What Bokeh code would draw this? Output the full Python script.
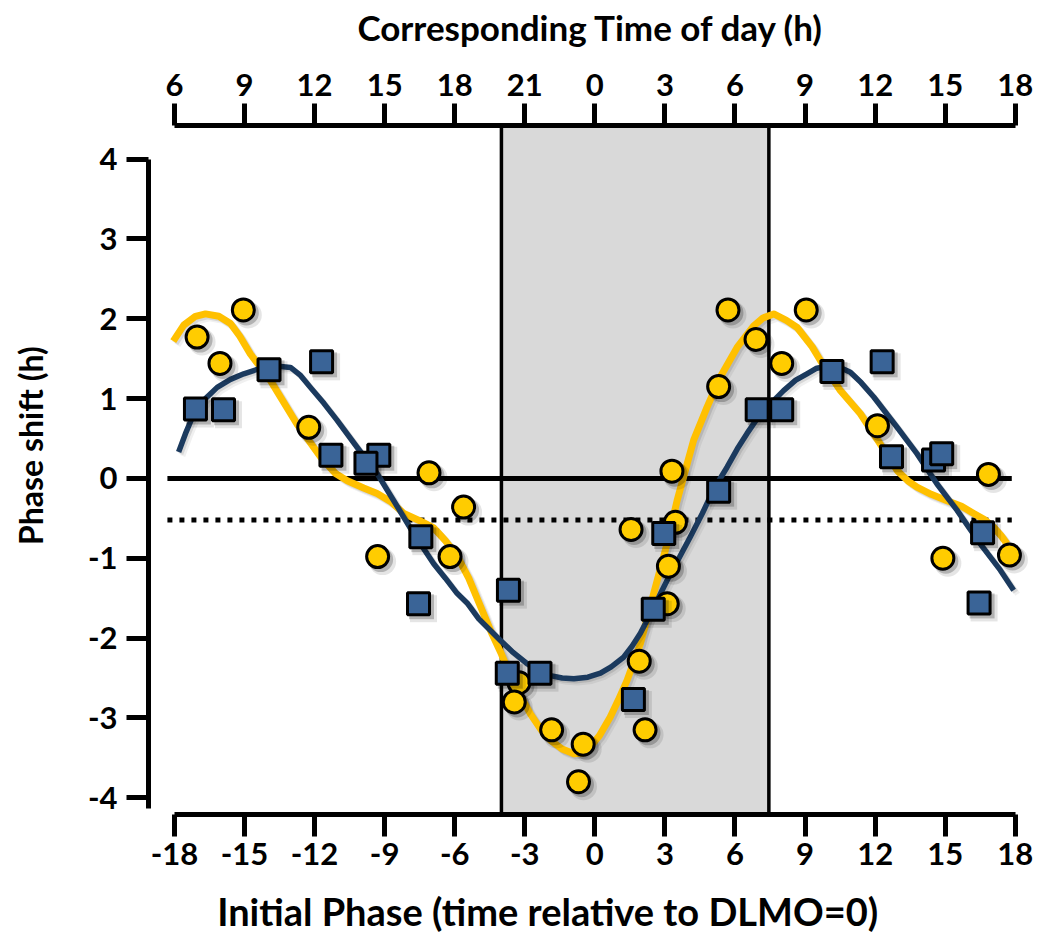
from bokeh.plotting import figure
from bokeh.models import LinearAxis, FixedTicker, Range1d, BoxAnnotation, Span
from bokeh.embed import file_html
from bokeh.resources import INLINE

# ---- axes ticks and labels ----
phase_ticks = [-18, -15, -12, -9, -6, -3, 0, 3, 6, 9, 12, 15, 18]
phase_tick_labels = ["-18", "-15", "-12", "-9", "-6", "-3", "0", "3", "6", "9", "12", "15", "18"]
clock_tick_labels = ["6", "9", "12", "15", "18", "21", "0", "3", "6", "9", "12", "15", "18"]
shift_ticks = [-4, -3, -2, -1, 0, 1, 2, 3, 4]
shift_tick_labels = ["-4", "-3", "-2", "-1", "0", "1", "2", "3", "4"]

top_title = "Corresponding Time of day (h)"
bottom_title = "Initial Phase (time relative to DLMO=0)"
left_title = "Phase shift (h)"

# ---- group 1: individual phase shifts (yellow circles) ----
circle_phase = [-17.03, -16.05, -15.05, -12.25, -9.3, -7.1, -6.2, -5.62, -3.25, -3.45,
                -1.85, -0.5, -0.7, 1.55, 1.9, 2.15, 3.1, 3.15, 3.45, 3.3,
                5.3, 5.7, 6.9, 8.0, 9.05, 12.1, 14.9, 16.85, 17.75]
circle_shift = [1.77, 1.44, 2.11, 0.64, -0.98, 0.07, -0.98, -0.36, -2.56, -2.80,
                -3.15, -3.33, -3.80, -0.64, -2.29, -3.15, -1.57, -1.10, -0.55, 0.09,
                1.15, 2.11, 1.74, 1.44, 2.11, 0.66, -1.00, 0.05, -0.96]

# ---- group 2: individual phase shifts (blue squares) ----
square_phase = [-17.1, -15.9, -13.95, -11.7, -11.3, -9.25, -9.8, -7.45, -7.55, -3.7,
                -3.75, -2.35, 1.65, 2.5, 2.95, 5.3, 6.95, 8.0, 10.15, 12.3,
                12.7, 14.5, 14.85, 16.6, 16.45]
square_shift = [0.87, 0.86, 1.36, 1.46, 0.29, 0.29, 0.19, -0.73, -1.57, -1.40,
                -2.44, -2.44, -2.77, -1.64, -0.69, -0.16, 0.86, 0.86, 1.34, 1.46,
                0.27, 0.23, 0.31, -0.68, -1.56]

# ---- fitted phase response curves ----
yellow_fit_phase = [-18.05, -17.6, -17.1, -16.67, -16.1, -15.6, -15.2, -14.75, -13.9, -12.75,
                    -11.75, -11.1, -10.6, -9.9, -9.32, -8.7, -8.18, -7.5, -6.9, -6.4,
                    -5.9, -5.4, -4.9, -4.4, -4.0, -3.47, -2.76, -2.3, -1.9, -1.4,
                    -0.9, -0.5, -0.19, 0.2, 0.66, 1.0, 1.38, 1.95, 2.52, 3.09,
                    3.52, 3.8, 4.23, 4.8, 5.37, 6.09, 6.8, 7.2, 7.66, 8.2,
                    8.66, 9.3, 9.65, 10.51, 11.37, 12.22, 12.94, 13.4, 13.79, 14.4,
                    15.08, 15.7, 16.22, 16.7, 17.07, 17.4, 17.65]
yellow_fit_shift = [1.72, 1.92, 2.03, 2.06, 2.03, 1.94, 1.78, 1.56, 1.23, 0.68,
                    0.27, 0.06, -0.03, -0.12, -0.19, -0.30, -0.44, -0.53, -0.62, -0.78,
                    -0.97, -1.25, -1.60, -1.95, -2.20, -2.57, -2.95, -3.15, -3.28, -3.39,
                    -3.45, -3.44, -3.36, -3.22, -2.99, -2.78, -2.53, -2.07, -1.44, -0.82,
                    -0.28, 0.02, 0.48, 0.89, 1.27, 1.64, 1.91, 2.01, 2.06, 1.98,
                    1.89, 1.65, 1.48, 1.10, 0.81, 0.43, 0.10, -0.03, -0.11, -0.20,
                    -0.28, -0.35, -0.44, -0.52, -0.61, -0.72, -0.82]

blue_fit_phase = [-17.82, -17.5, -17.17, -16.7, -16.17, -15.6, -15.03, -14.4, -13.75, -13.03,
                  -12.6, -12.18, -11.6, -11.04, -10.18, -9.32, -8.61, -7.76, -6.9, -6.4,
                  -5.9, -5.47, -4.97, -4.04, -3.5, -2.9, -2.4, -1.9, -1.4, -0.9,
                  -0.3, 0.24, 0.7, 1.23, 1.6, 1.95, 2.48, 3.09, 3.6, 4.09,
                  4.6, 5.1, 5.66, 6.1, 6.51, 7.0, 7.37, 8.08, 8.6, 9.08,
                  9.5, 10.08, 10.5, 10.94, 11.4, 11.94, 12.94, 13.79, 14.65, 15.51,
                  16.5, 17.36, 17.93]
blue_fit_shift = [0.33, 0.58, 0.81, 0.99, 1.14, 1.24, 1.31, 1.37, 1.41, 1.39,
                  1.29, 1.14, 0.94, 0.73, 0.39, 0.06, -0.28, -0.69, -1.07, -1.25,
                  -1.44, -1.56, -1.76, -2.03, -2.18, -2.32, -2.41, -2.47, -2.50, -2.51,
                  -2.49, -2.44, -2.36, -2.24, -2.10, -1.94, -1.64, -1.28, -1.00, -0.73,
                  -0.44, -0.13, 0.14, 0.37, 0.56, 0.77, 0.89, 1.10, 1.23, 1.31,
                  1.38, 1.41, 1.39, 1.33, 1.20, 1.02, 0.64, 0.31, -0.07, -0.40,
                  -0.82, -1.15, -1.40]

# ---- reference markers ----
night_start, night_end = -4.0, 7.45      # shaded interval
zero_level = 0.0
dotted_level = -0.52
ref_line_from, ref_line_to = -18.3, 17.85

# ---- geometry ----
FRAME_W, FRAME_H = 885, 689
X_RANGE = (-19.11, 18.78)
Y_RANGE = (-4.21, 4.42)
BOTTOM_TITLE_AT = -2.02   # along-axis anchor of the x title (data units)
LEFT_TITLE_AT = 0.41      # along-axis anchor of the y title (data units)

FONT = "Lato"
YELLOW_FILL = "#FFCC00"
YELLOW_LINE = "#FFC000"
BLUE_FILL = "#3A6497"
NAVY_LINE = "#1B3A5E"

p = figure(frame_width=FRAME_W, frame_height=FRAME_H,
           x_range=Range1d(*X_RANGE), y_range=Range1d(*Y_RANGE),
           output_backend="svg", toolbar_location=None,
           min_border_left=148, min_border_right=10,
           min_border_top=125, min_border_bottom=120,
           background_fill_color="white", border_fill_color="white")
p.outline_line_color = None
p.grid.visible = False


def style_axis(ax):
    ax.axis_line_width = 5
    ax.axis_line_color = "black"
    ax.major_tick_line_width = 5
    ax.major_tick_line_color = "black"
    ax.major_tick_out = 22
    ax.major_tick_in = 0
    ax.minor_tick_line_color = None
    ax.major_label_text_font = FONT
    ax.major_label_text_font_style = "bold"
    ax.major_label_text_font_size = "31px"
    ax.major_label_text_color = "black"


def title_axis(position, text, standoff, size, orientation="horizontal"):
    """A line-less axis whose single tick label serves as an axis title."""
    ax = LinearAxis(ticker=FixedTicker(ticks=[position]),
                    major_label_overrides={position: text})
    ax.axis_line_color = None
    ax.major_tick_line_color = None
    ax.minor_tick_line_color = None
    ax.major_tick_out = 0
    ax.major_tick_in = 0
    ax.major_label_standoff = standoff
    ax.major_label_orientation = orientation
    ax.major_label_text_font = FONT
    ax.major_label_text_font_style = "bold"
    ax.major_label_text_font_size = size
    ax.major_label_text_color = "black"
    return ax


xb = p.xaxis[0]
style_axis(xb)
xb.ticker = FixedTicker(ticks=phase_ticks)
xb.major_label_overrides = dict(zip(phase_ticks, phase_tick_labels))
xb.bounds = (phase_ticks[0], phase_ticks[-1])
xb.major_label_standoff = 6

yl = p.yaxis[0]
style_axis(yl)
yl.ticker = FixedTicker(ticks=shift_ticks)
yl.major_label_overrides = dict(zip(shift_ticks, shift_tick_labels))
yl.bounds = (-4.14, 4.0)
yl.major_label_standoff = 9

xt = LinearAxis()
style_axis(xt)
xt.ticker = FixedTicker(ticks=phase_ticks)
xt.major_label_overrides = dict(zip(phase_ticks, clock_tick_labels))
xt.bounds = (phase_ticks[0], phase_ticks[-1])
xt.major_label_standoff = 8
xt.axis_label = top_title
xt.axis_label_standoff = 23
xt.axis_label_text_font = FONT
xt.axis_label_text_font_style = "bold"
xt.axis_label_text_font_size = "35px"
xt.axis_label_text_color = "black"
p.add_layout(xt, "above")

p.add_layout(title_axis(BOTTOM_TITLE_AT, bottom_title, 20, "38px"), "below")
p.add_layout(title_axis(LEFT_TITLE_AT, left_title, 34, "32px", "vertical"), "left")

# shaded interval with its edges
p.add_layout(BoxAnnotation(left=night_start, right=night_end, fill_color="#D9D9D9",
                           fill_alpha=1.0, line_color=None, level="underlay"))
for edge in (night_start, night_end):
    p.add_layout(Span(location=edge, dimension="height", line_color="black",
                      line_width=3.5, level="underlay"))

# horizontal reference lines
p.segment(x0=[ref_line_from], y0=[zero_level], x1=[ref_line_to], y1=[zero_level],
          line_color="black", line_width=5)
p.segment(x0=[ref_line_from], y0=[dotted_level], x1=[ref_line_to], y1=[dotted_level],
          line_color="black", line_width=5, line_dash="5 7")

# soft drop shadows, offset a few pixels down-right
ux = (X_RANGE[1] - X_RANGE[0]) / FRAME_W
uy = (Y_RANGE[1] - Y_RANGE[0]) / FRAME_H


def shifted(vals, d):
    return [v + d for v in vals]


for k, a in ((2, 0.10), (4, 0.06)):
    p.line(shifted(yellow_fit_phase, k * ux), shifted(yellow_fit_shift, -k * uy),
           line_color="black", line_alpha=a, line_width=7, line_join="round")
p.line(yellow_fit_phase, yellow_fit_shift, line_color=YELLOW_LINE, line_width=7,
       line_join="round")
for k, a in ((2, 0.10), (4, 0.06)):
    p.line(shifted(blue_fit_phase, k * ux), shifted(blue_fit_shift, -k * uy),
           line_color="black", line_alpha=a, line_width=5.5, line_join="round")
p.line(blue_fit_phase, blue_fit_shift, line_color=NAVY_LINE, line_width=5.5,
       line_join="round")

for k, a, s in ((3, 0.22, 25), (5, 0.10, 27)):
    p.scatter(shifted(circle_phase, k * ux), shifted(circle_shift, -k * uy),
              marker="circle", size=s, fill_color="black", fill_alpha=a, line_color=None)
p.scatter(circle_phase, circle_shift, marker="circle", size=22,
          fill_color=YELLOW_FILL, line_color="black", line_width=3)

for k, a, s in ((3, 0.22, 25), (5, 0.10, 27)):
    p.scatter(shifted(square_phase, k * ux), shifted(square_shift, -k * uy),
              marker="square", size=s, fill_color="black", fill_alpha=a, line_color=None)
p.scatter(square_phase, square_shift, marker="square", size=22,
          fill_color=BLUE_FILL, line_color="black", line_width=3)

open("out.html", "w").write(file_html(p, INLINE))
